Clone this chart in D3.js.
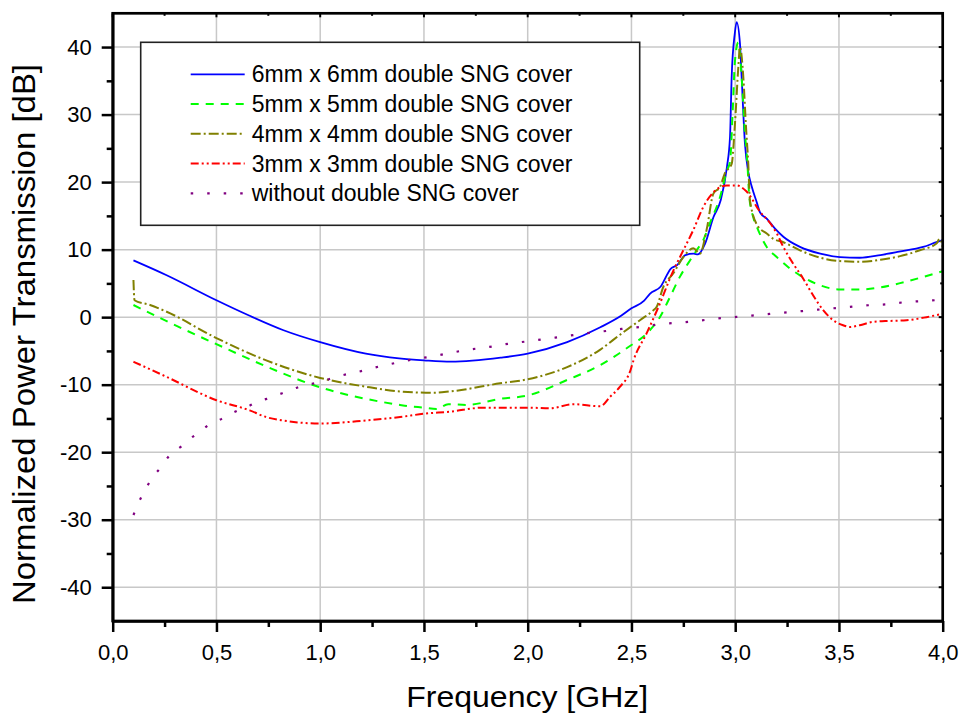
<!DOCTYPE html>
<html>
<head>
<meta charset="utf-8">
<script src="https://cdn.jsdelivr.net/npm/d3@7"></script>
<style>
  body { margin: 0; background: #fff; }
  svg text { font-family: "Liberation Sans", Arial, Helvetica, sans-serif; fill: #000; }
</style>
</head>
<body>
<div id="plot"></div>
<script>
// data (frequency in GHz, transmission in dB)
var seriesNames = ["6mm x 6mm double SNG cover", "5mm x 5mm double SNG cover",
                   "4mm x 4mm double SNG cover", "3mm x 3mm double SNG cover",
                   "without double SNG cover"];

var freq6 = [0.10, 0.26, 0.50, 0.66, 0.82, 1.00, 1.22, 1.38, 1.50, 1.63, 1.87, 2.00, 2.19, 2.35, 2.45, 2.50, 2.56, 2.59, 2.64, 2.69, 2.72, 2.76, 2.80, 2.82, 2.855, 2.895, 2.93, 2.96, 2.975, 2.983, 2.998, 3.007, 3.023, 3.031, 3.047, 3.063, 3.08, 3.104, 3.12, 3.152, 3.192, 3.232, 3.312, 3.41, 3.505, 3.60, 3.70, 3.79, 3.906, 3.97, 4.00];
var db6   = [8.4, 6.2, 2.5, 0.2, -1.9, -3.7, -5.4, -6.1, -6.4, -6.6, -6.0, -5.4, -3.7, -1.5, 0.2, 1.3, 2.4, 3.5, 4.5, 7.2, 7.7, 9.2, 9.4, 9.3, 10.9, 14.8, 17.3, 22.2, 26.7, 35.6, 42.0, 43.7, 40.5, 35.6, 25.7, 21.5, 19.3, 17.0, 15.5, 14.6, 13.1, 11.9, 10.4, 9.4, 8.9, 8.8, 9.2, 9.7, 10.4, 11.1, 11.4];

var freq5 = [0.10, 0.26, 0.50, 0.74, 1.00, 1.22, 1.385, 1.43, 1.50, 1.56, 1.617, 1.705, 1.867, 2.00, 2.19, 2.35, 2.477, 2.59, 2.637, 2.686, 2.734, 2.782, 2.814, 2.846, 2.878, 2.927, 2.96, 2.975, 2.988, 2.999, 3.015, 3.031, 3.047, 3.058, 3.068, 3.087, 3.104, 3.152, 3.20, 3.256, 3.312, 3.41, 3.505, 3.60, 3.70, 3.79, 3.906, 4.00];
var db5   = [1.8, -0.6, -4.0, -7.3, -10.4, -12.1, -13.0, -13.2, -13.4, -13.6, -12.9, -13.0, -12.1, -11.6, -9.3, -7.1, -4.6, -1.9, 0.0, 3.0, 6.0, 8.4, 9.9, 11.4, 13.9, 17.8, 21.7, 23.0, 30.6, 38.0, 40.7, 35.6, 27.2, 23.2, 17.8, 14.8, 13.4, 10.4, 8.9, 7.4, 6.2, 4.7, 4.1, 4.1, 4.4, 5.0, 5.95, 6.8];

var freq4 = [0.10, 0.105, 0.18, 0.26, 0.50, 0.74, 1.00, 1.22, 1.385, 1.55, 1.626, 1.867, 2.00, 2.19, 2.35, 2.445, 2.541, 2.605, 2.621, 2.654, 2.702, 2.75, 2.798, 2.83, 2.862, 2.895, 2.927, 2.95, 2.983, 2.999, 3.015, 3.023, 3.039, 3.052, 3.063, 3.071, 3.111, 3.152, 3.184, 3.232, 3.312, 3.41, 3.505, 3.60, 3.70, 3.79, 3.89, 3.97, 3.986, 4.00];
var db4   = [5.5, 2.5, 1.8, 0.8, -3.1, -6.4, -9.0, -10.3, -11.0, -11.2, -11.0, -9.8, -9.2, -7.4, -4.8, -2.6, -0.45, 1.0, 1.5, 4.5, 6.5, 8.9, 10.2, 9.4, 12.9, 18.3, 19.3, 21.3, 22.7, 28.7, 37.0, 40.0, 35.6, 28.2, 22.7, 17.3, 13.4, 12.4, 11.6, 11.1, 9.9, 8.8, 8.3, 8.2, 8.5, 9.0, 9.9, 10.9, 11.6, 10.4];

var freq3 = [0.10, 0.26, 0.50, 0.66, 0.74, 0.82, 1.00, 1.22, 1.385, 1.50, 1.626, 1.786, 2.00, 2.107, 2.22, 2.35, 2.397, 2.445, 2.495, 2.51, 2.573, 2.63, 2.702, 2.75, 2.798, 2.846, 2.895, 2.96, 3.007, 3.055, 3.12, 3.169, 3.20, 3.232, 3.28, 3.328, 3.376, 3.425, 3.472, 3.52, 3.553, 3.60, 3.665, 3.745, 3.826, 3.922, 4.00];
var db3   = [-6.6, -8.85, -12.3, -13.8, -14.8, -15.3, -15.75, -15.3, -14.8, -14.3, -14.0, -13.4, -13.4, -13.5, -12.9, -13.2, -11.8, -10.3, -7.9, -6.4, -2.4, 1.5, 6.9, 9.9, 12.9, 16.3, 18.5, 19.5, 19.5, 18.6, 15.6, 13.9, 12.4, 10.4, 7.9, 5.7, 3.2, 1.0, -0.46, -1.2, -1.45, -1.2, -0.7, -0.56, -0.46, 0.0, 0.5];

var freq0 = [0.10, 0.123, 0.155, 0.188, 0.228, 0.276, 0.332, 0.373, 0.42, 0.46, 0.516, 0.557, 0.613, 0.653, 0.709, 0.742, 0.814, 0.903, 1.00, 1.087, 1.184, 1.272, 1.36, 1.457, 1.545, 1.634, 1.72, 1.817, 1.915, 2.003, 2.092, 2.188, 2.276, 2.364, 2.453, 2.541, 2.637, 2.734, 2.814, 2.911, 3.007, 3.095, 3.184, 3.272, 3.36, 3.456, 3.545, 3.641, 3.73, 3.826, 3.914, 4.00];
var db0   = [-29.3, -27.6, -25.7, -23.9, -22.4, -20.4, -19.1, -18.0, -17.0, -16.0, -15.2, -14.5, -13.7, -13.2, -12.4, -12.1, -11.3, -10.3, -9.6, -8.75, -8.1, -7.4, -6.8, -6.2, -5.8, -5.25, -4.8, -4.4, -3.9, -3.57, -3.2, -2.8, -2.4, -2.1, -1.75, -1.45, -1.05, -0.8, -0.56, -0.2, 0.03, 0.28, 0.53, 0.77, 1.0, 1.27, 1.5, 1.76, 1.9, 2.25, 2.4, 2.6];

var xMajor = [0, 0.5, 1, 1.5, 2, 2.5, 3, 3.5, 4];
var xMinor = [0.25, 0.75, 1.25, 1.75, 2.25, 2.75, 3.25, 3.75];
var yMajor = [-40, -30, -20, -10, 0, 10, 20, 30, 40];
var yMinor = [-35, -25, -15, -5, 5, 15, 25, 35];

// page layout, in pixels
var totalWidth = 963, totalHeight = 715;
var margin = {top: 13.3, right: 20.3, bottom: 94, left: 112.7};
var width = totalWidth - margin.left - margin.right,
    height = totalHeight - margin.top - margin.bottom;

var series = [
  {name: seriesNames[0], f: freq6, v: db6, color: "#0000ff", dash: null, w: 1.8},
  {name: seriesNames[1], f: freq5, v: db5, color: "#00ff00", dash: "8,7", w: 2},
  {name: seriesNames[2], f: freq4, v: db4, color: "#808000", dash: "10,3,2,3", w: 2},
  {name: seriesNames[3], f: freq3, v: db3, color: "#ff0000", dash: "8,3,2,3,2,3", w: 2},
  {name: seriesNames[4], f: freq0, v: db0, color: "#800080", dash: "2.5,14", w: 2.2}
];

var svg = d3.select("#plot").append("svg")
    .attr("width", totalWidth)
    .attr("height", totalHeight);

var x = d3.scaleLinear().domain([0, 4]).range([0, width]);
var y = d3.scaleLinear().domain([-45, 45]).range([height, 0]);

var graph = svg.append("g")
    .attr("transform", "translate(" + margin.left + "," + margin.top + ")");

// grid
graph.append("g").selectAll("line")
    .data(xMajor.slice(1, -1))
  .join("line")
    .attr("x1", d => x(d)).attr("x2", d => x(d))
    .attr("y1", 0).attr("y2", height)
    .attr("stroke", "#c8c8c8").attr("stroke-width", 1.5);
graph.append("g").selectAll("line")
    .data(yMajor)
  .join("line")
    .attr("x1", 0).attr("x2", width)
    .attr("y1", d => y(d)).attr("y2", d => y(d))
    .attr("stroke", "#c8c8c8").attr("stroke-width", 1.5);

// curves
var line = d3.line()
    .x(d => x(d[0]))
    .y(d => y(d[1]))
    .curve(d3.curveMonotoneX);

series.forEach(function(s) {
  var pts = s.f.map((f, i) => [f, s.v[i]]);
  graph.append("path")
      .datum(pts)
      .attr("d", line)
      .attr("fill", "none")
      .attr("stroke", s.color)
      .attr("stroke-width", s.w)
      .attr("stroke-dasharray", s.dash);
});

var fmt = d => d3.format(".1f")(d).replace(".", ",");

// axes
graph.append("g")
    .attr("transform", "translate(0," + height + ")")
    .call(d3.axisBottom(x).tickValues(xMajor).tickFormat(fmt)
          .tickSize(11).tickSizeOuter(0).tickPadding(12));
graph.append("g")
    .attr("transform", "translate(0," + height + ")")
    .call(d3.axisBottom(x).tickValues(xMinor).tickFormat("")
          .tickSize(6).tickSizeOuter(0))
    .select(".domain").remove();

graph.append("g")
    .call(d3.axisLeft(y).tickValues(yMajor).tickFormat(d => String(d))
          .tickSize(11).tickSizeOuter(0).tickPadding(10));
graph.append("g")
    .call(d3.axisLeft(y).tickValues(yMinor).tickFormat("")
          .tickSize(6).tickSizeOuter(0))
    .select(".domain").remove();

// ticks on top and right, pointing inward
graph.append("g").selectAll("line")
    .data(xMajor.concat(xMinor))
  .join("line")
    .attr("x1", d => x(d)).attr("x2", d => x(d))
    .attr("y1", 0).attr("y2", d => xMajor.includes(d) ? 4 : 2.5)
    .attr("stroke", "#000").attr("stroke-width", 2);
graph.append("g").selectAll("line")
    .data(yMajor.concat(yMinor))
  .join("line")
    .attr("x1", width).attr("x2", d => width - (yMajor.includes(d) ? 4 : 2.5))
    .attr("y1", d => y(d)).attr("y2", d => y(d))
    .attr("stroke", "#000").attr("stroke-width", 2);

graph.selectAll(".domain").attr("stroke-width", 2.7);
graph.selectAll(".tick line").attr("stroke-width", 2.5);
graph.selectAll(".tick text").style("font-size", "22px");

graph.append("rect")
    .attr("width", width)
    .attr("height", height)
    .attr("fill", "none")
    .attr("stroke", "#000")
    .attr("stroke-width", 2.7);

// axis titles
svg.append("text")
    .attr("x", margin.left + width / 2 - 0.5)
    .attr("y", 707)
    .attr("text-anchor", "middle")
    .attr("textLength", 242)
    .attr("lengthAdjust", "spacingAndGlyphs")
    .style("font-size", "29px")
    .text("Frequency [GHz]");
svg.append("text")
    .attr("transform", "translate(35,334) rotate(-90)")
    .attr("text-anchor", "middle")
    .attr("textLength", 540)
    .attr("lengthAdjust", "spacingAndGlyphs")
    .style("font-size", "31px")
    .text("Normalized Power Transmission [dB]");

// legend
var legend = svg.append("g").attr("transform", "translate(140.7,42.3)");
legend.append("rect")
    .attr("width", 499)
    .attr("height", 183)
    .attr("fill", "#fff")
    .attr("stroke", "#222")
    .attr("stroke-width", 1.6);
var rows = legend.selectAll("g.row")
    .data(series)
  .join("g")
    .attr("class", "row")
    .attr("transform", (d, i) => "translate(0," + (32 + i * 29.75) + ")");
rows.append("line")
    .attr("x1", 50).attr("x2", 104)
    .attr("stroke", d => d.color)
    .attr("stroke-width", d => d.w)
    .attr("stroke-dasharray", d => d.dash);
rows.append("text")
    .attr("x", 111)
    .attr("y", 8)
    .style("font-size", "23px")
    .text(d => d.name);
</script>
</body>
</html>
